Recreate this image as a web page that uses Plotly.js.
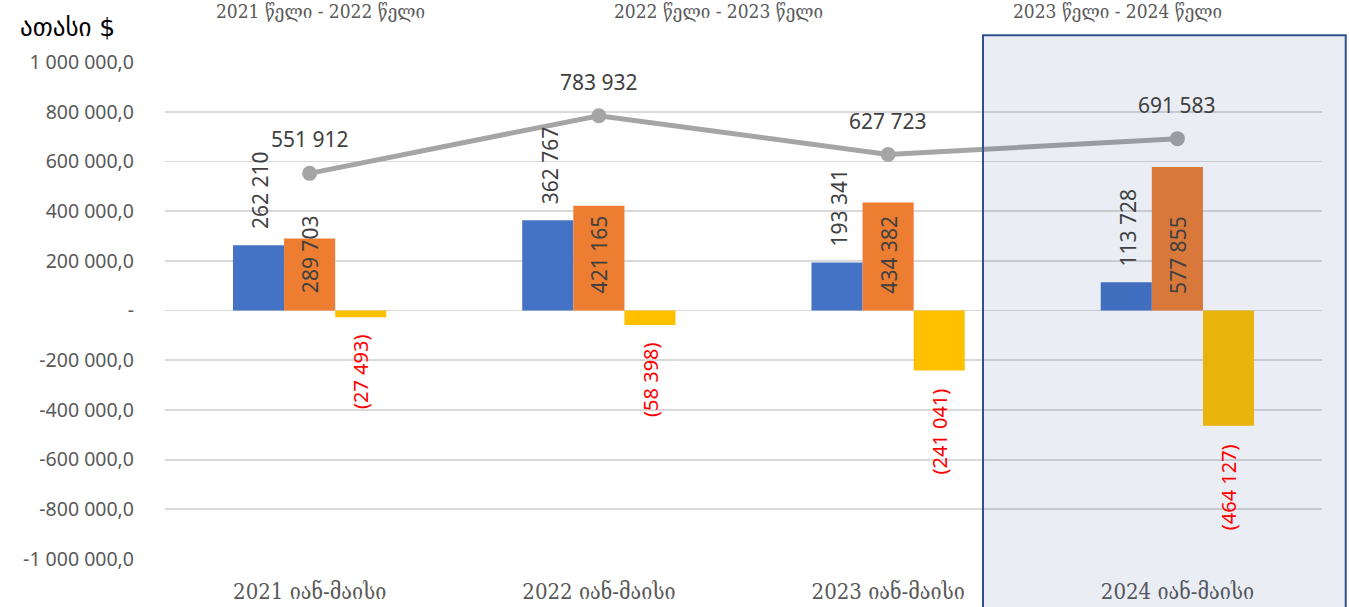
<!DOCTYPE html>
<html><head><meta charset="utf-8">
<script src="https://cdn.plot.ly/plotly-3.0.1.min.js"></script>
<style>html,body{margin:0;padding:0;background:#fff}#chart{width:1349px;height:607px}</style>
</head><body><div id="chart"></div>
<script>
const categories = ["2021 იან-მაისი","2022 იან-მაისი","2023 იან-მაისი","2024 იან-მაისი"];
const exportsVals = [262210, 362767, 193341, 113728];
const importsVals = [289703, 421165, 434382, 577855];
const balanceVals = [-27493, -58398, -241041, -464127];
const turnoverVals = [551912, 783932, 627723, 691583];
const periodLabels = ["2021 წელი - 2022 წელი","2022 წელი - 2023 წელი","2023 წელი - 2024 წელი"];
const yTickVals = [1000000,800000,600000,400000,200000,0,-200000,-400000,-600000,-800000,-1000000];
const yTickText = ["1 000 000,0","800 000,0","600 000,0","400 000,0","200 000,0","-","-200 000,0","-400 000,0","-600 000,0","-800 000,0","-1 000 000,0"];
const yTitle = "ათასი $";

function fmt(v){const s=Math.abs(v).toString().replace(/\B(?=(\d{3})+(?!\d))/g,' ');return v<0?'('+s+')':s;}

const labelFont = {family:'Noto Sans, Open Sans, sans-serif', size:21, color:'#404040'};
const traces = [
 {type:'bar', x:categories, y:exportsVals, marker:{color:'#4472C4'}, hoverinfo:'none'},
 {type:'bar', x:categories, y:importsVals, marker:{color:'#ED7D31'}, hoverinfo:'none'},
 {type:'bar', x:categories, y:balanceVals, marker:{color:'#FFC000'}, hoverinfo:'none'},
 {type:'scatter', mode:'lines+markers', x:categories, y:turnoverVals, line:{color:'#A5A5A5', width:5}, marker:{color:'#A5A5A5', size:15}, hoverinfo:'none'}
];
const ann = [];
categories.forEach((c,i)=>{
  ann.push({x:c, y:exportsVals[i], xref:'x', yref:'y', text:fmt(exportsVals[i]), textangle:-90, showarrow:false, xanchor:'center', yanchor:'bottom', xshift:-49, yshift:14, font:labelFont});
  ann.push({x:c, y:0, xref:'x', yref:'y', text:fmt(importsVals[i]), textangle:-90, showarrow:false, xanchor:'center', yanchor:'bottom', xshift:0, yshift:15, font:labelFont});
  ann.push({x:c, y:balanceVals[i], xref:'x', yref:'y', text:fmt(balanceVals[i]), textangle:-90, showarrow:false, xanchor:'center', yanchor:'top', xshift:51, yshift:-16, font:{family:labelFont.family, size:20, color:'#FF0000'}});
  ann.push({x:c, y:turnoverVals[i], xref:'x', yref:'y', text:fmt(turnoverVals[i]), showarrow:false, xanchor:'center', yanchor:'bottom', yshift:18, font:labelFont});
});
const periodX = [0.134, 0.478, 0.823];
periodLabels.forEach((t,i)=>{
  ann.push({x:periodX[i], y:1.0, xref:'paper', yref:'paper', text:t, showarrow:false, xanchor:'center', yanchor:'top', yshift:64, font:{family:'DejaVu Serif Condensed, DejaVu Serif, serif', size:19, color:'#595959'}});
});
ann.push({x:-0.127, y:1.07, xref:'paper', yref:'paper', text:yTitle, showarrow:false, xanchor:'left', yanchor:'middle', font:{family:'DejaVu Sans, sans-serif', size:25, color:'#000000'}});

const layout = {
  width:1349, height:607,
  margin:{l:165, r:27, t:62, b:48},
  paper_bgcolor:'#ffffff', plot_bgcolor:'rgba(0,0,0,0)',
  showlegend:false, barmode:'group', bargap:0.47, bargroupgap:0,
  xaxis:{type:'category', range:[-0.5,3.5], showgrid:false, zeroline:false, showline:false, ticks:'', ticklabelstandoff:17,
    tickfont:{family:'DejaVu Serif Condensed, DejaVu Serif, serif', size:22, color:'#595959'}},
  yaxis:{range:[-1000000,1000000], tickvals:yTickVals, ticktext:yTickText, showgrid:true, gridcolor:'#D9D9D9', gridwidth:1.8,
    zeroline:true, zerolinecolor:'#D9D9D9', zerolinewidth:1.8, showline:false, ticks:'', ticklabelstandoff:30,
    tickfont:{family:'Noto Sans, Open Sans, sans-serif', size:19.5, color:'#595959'}},
  shapes:[
    {type:'rect', xref:'paper', yref:'paper', x0:0.707, x1:1.0205, y0:-0.15, y1:1.054, layer:'above', fillcolor:'#2F528F', opacity:0.1, line:{width:0}},
    {type:'rect', xref:'paper', yref:'paper', x0:0.707, x1:1.0205, y0:-0.15, y1:1.054, layer:'above', fillcolor:'rgba(0,0,0,0)', line:{color:'#2F528F', width:2}}
  ],
  annotations:ann
};
Plotly.newPlot('chart', traces, layout, {displayModeBar:false, staticPlot:true});
</script></body></html>
